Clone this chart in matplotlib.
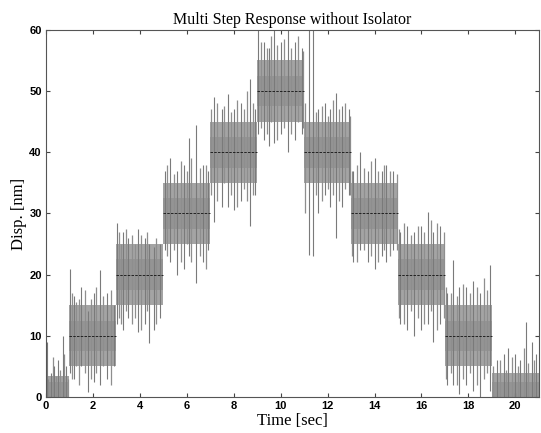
import matplotlib
matplotlib.use("Agg")
import matplotlib.pyplot as plt

# ---- data ----
step_edges = [0, 1, 3, 5, 7, 9, 11, 13, 15, 17, 19, 21]
step_levels = [0, 10, 20, 30, 40, 50, 40, 30, 20, 10, 0]
band_low = [0, 5, 15, 25, 35, 45, 35, 25, 15, 5, 0]
band_high = [3.5, 15, 25, 35, 45, 55, 45, 35, 25, 15, 4]

# prominent spikes (time, lower end, upper end)
spike_t = [0.05, 0.2, 0.35, 0.5, 0.71, 0.85,
           1.02, 1.2, 1.5, 1.8, 2.05, 2.3, 2.6, 2.9,
           3.02, 3.3, 3.5, 3.9, 4.2, 4.4, 4.6, 4.85,
           5.05, 5.3, 5.6, 5.9, 6.08, 6.4, 6.7, 6.9,
           7.15, 7.5, 7.75, 8.0, 8.3, 8.7, 8.9,
           9.03, 9.3, 9.5, 9.7, 10.0, 10.3, 10.6, 10.9,
           11.2, 11.37,
           11.6, 11.9, 12.1, 12.37, 12.6, 12.9,
           13.1, 13.4, 13.7, 14.0, 14.3, 14.5, 14.8,
           15.1, 15.4, 15.7, 16.0, 16.26, 16.5, 16.8,
           17.1, 17.36, 17.6, 17.9, 18.2, 18.5, 18.9,
           19.2, 19.5, 19.7, 20.0, 20.2, 20.45, 20.7, 20.9]
spike_lo = [0, 0, 0, 0, 0, 0,
            4, 3, 5, 0.8, 2.5, 2, 3, 5,
            12, 11, 13, 10.6, 12, 8.8, 11, 13,
            24, 22, 20, 21, 23, 18.6, 22, 24,
            28.6, 31, 31, 30.5, 32, 28, 33,
            43, 42, 41, 41.5, 43, 40, 42, 43,
            23.2, 23,
            30, 33, 31, 26, 31, 33,
            22, 24, 22, 21, 23, 22, 24,
            12, 11, 10, 11, 12, 9, 12,
            2, 2, 0.5, 2, 1, 0, 1,
            0, 0, 0, 0, 0, 0, 0, 0]
spike_hi = [9, 4, 5, 6, 10, 5,
            21, 16.5, 18, 14, 17, 20.8, 17, 15,
            28.4, 27, 26, 27.5, 26, 25, 24.5, 25,
            37, 39, 37, 38, 42.3, 44.5, 38, 37,
            49, 47, 49.5, 47, 48, 52, 47,
            60, 58, 57, 60, 58, 60, 58, 57,
            60, 60,
            47, 48, 47, 49.7, 47.5, 47,
            37, 40, 37, 39, 37, 38, 37,
            27, 28, 27, 28, 30.3, 27, 28,
            17, 22.4, 18, 18, 19, 17, 21.6,
            6, 7, 8, 7, 6, 12.3, 9, 7]

# smaller noise excursions (time, lower end, upper end)
noise_t = [0.1, 0.28, 0.42, 0.6, 0.78, 0.93,
           1.1, 1.3, 1.4, 1.65, 1.9, 2.15, 2.45, 2.75,
           3.1, 3.2, 3.4, 3.65, 3.8, 4.05, 4.3, 4.7,
           5.15, 5.45, 5.75, 6.0, 6.2, 6.55, 6.8,
           7.05, 7.3, 7.6, 7.9, 8.15, 8.45, 8.55, 8.8,
           9.15, 9.4, 9.6, 9.85, 10.15, 10.45, 10.75, 10.95,
           11.05, 11.5, 11.75, 12.0, 12.25, 12.5, 12.75, 12.95,
           13.05, 13.25, 13.55, 13.85, 14.15, 14.4, 14.65, 14.95,
           15.05, 15.25, 15.55, 15.85, 16.1, 16.4, 16.65, 16.95,
           17.05, 17.25, 17.5, 17.75, 18.05, 18.35, 18.65, 18.8,
           19.05, 19.35, 19.6, 19.85, 20.1, 20.35, 20.55, 20.8]
noise_lo = [0, 0, 0, 0, 0, 0,
            3, 5, 2, 4, 3, 4, 5, 2,
            13, 12, 14, 12, 13, 11, 14, 12,
            23, 24, 22, 25, 22, 23, 21,
            33, 32, 35, 33, 31, 34, 32, 33,
            44, 43, 45, 42, 44, 43, 45, 44,
            30, 33, 32, 34, 33, 32, 34, 33,
            23, 22, 24, 23, 22, 24, 23, 24,
            13, 12, 14, 13, 12, 14, 11, 13,
            3, 4, 2, 3, 4, 2, 3, 4,
            0, 0, 0, 0, 0, 0, 0, 0]
noise_hi = [3, 6.5, 3.5, 4.5, 7, 3,
            17, 15.5, 16, 17.5, 16, 18, 16.5, 17.5,
            27, 25, 27.5, 26.5, 25, 26.5, 27, 26,
            38, 36.5, 38.5, 37, 39, 37.5, 38,
            47, 48, 47.5, 46.5, 48.5, 47, 50, 48,
            58, 57, 59, 57.5, 58.5, 57, 59, 56.5,
            48, 46.5, 47.5, 46, 48.5, 47, 48, 46,
            37, 38, 37.5, 38.5, 37, 38, 37, 36.5,
            27.5, 28.5, 26.5, 28, 27, 29, 28.5, 27,
            18, 17, 16.5, 18.5, 17, 18, 19.5, 17.5,
            5, 6, 4.5, 6.5, 5, 8, 5.5, 6]

x_ticks = [0, 2, 4, 6, 8, 10, 12, 14, 16, 18, 20]
y_ticks = [0, 10, 20, 30, 40, 50, 60]

fig = plt.figure(figsize=(5.41, 4.33), dpi=100)
ax = fig.add_axes([0.085, 0.083, 0.911, 0.848])

for i in range(len(step_levels)):
    t0, t1 = step_edges[i], step_edges[i + 1]
    ax.fill_between([t0, t1], [band_low[i]] * 2, [band_high[i]] * 2,
                    color='#a4a4a4', lw=0)
    inner_lo = max(step_levels[i] - 2.5, 0)
    ax.fill_between([t0, t1], [inner_lo] * 2, [step_levels[i] + 2.5] * 2,
                    color='#8a8a8a', lw=0, alpha=0.6)

ax.vlines(noise_t, noise_lo, noise_hi, color='#8e8e8e', lw=0.9)
ax.vlines(spike_t, spike_lo, spike_hi, color='#7a7a7a', lw=0.8)

for i in range(len(step_levels)):
    t0, t1 = step_edges[i], step_edges[i + 1]
    ax.plot([t0, t1], [step_levels[i]] * 2, color='#111111', lw=0.6,
            ls=(0, (3, 1.5)))

ax.set_xlim(0, 21)
ax.set_ylim(0, 60)
ax.set_xticks(x_ticks)
ax.set_yticks(y_ticks)
ax.tick_params(direction='in', top=True, right=True, length=3,
               labelsize=8, pad=3, color='#444444')
for lab in ax.get_xticklabels() + ax.get_yticklabels():
    lab.set_fontfamily('Liberation Sans')
    lab.set_fontweight('bold')
for s in ax.spines.values():
    s.set_color('#555555')
    s.set_linewidth(0.8)

ax.set_title('Multi Step Response without Isolator', family='Liberation Serif',
             fontsize=11.5, pad=4)
ax.set_xlabel('Time [sec]', family='Liberation Serif', fontsize=12, labelpad=1)
ax.set_ylabel('Disp. [nm]', family='Liberation Serif', fontsize=12, labelpad=2)

fig.savefig('out.png', dpi=100, facecolor='white')
